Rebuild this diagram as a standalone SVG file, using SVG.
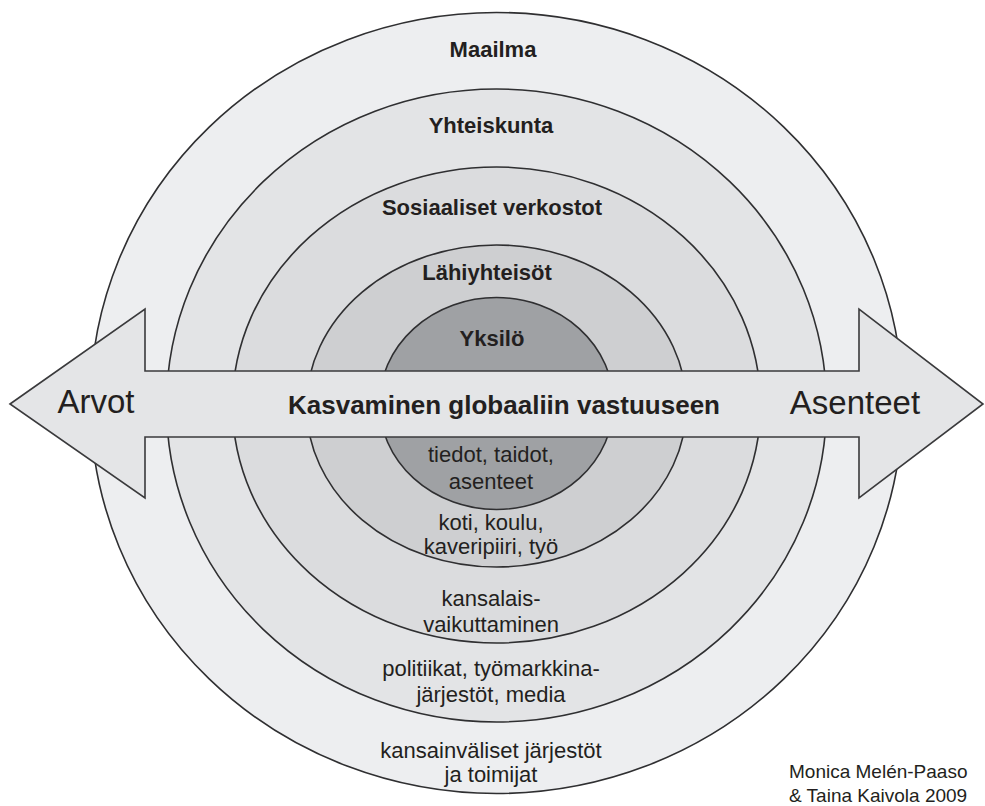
<svg xmlns="http://www.w3.org/2000/svg" width="985" height="806" viewBox="0 0 985 806">
<style>
.ring{stroke:#2f2f31;stroke-width:1.6}
.lb{font-family:"Liberation Sans",Arial,sans-serif;font-weight:bold;font-size:22px;fill:#231f20;text-anchor:middle}
.tx{font-family:"Liberation Sans",Arial,sans-serif;font-size:22px;fill:#231f20;text-anchor:middle}
.big{font-family:"Liberation Sans",Arial,sans-serif;font-size:33px;fill:#231f20;text-anchor:middle}
.att{font-family:"Liberation Sans",Arial,sans-serif;font-size:19px;fill:#231f20}
</style>
<rect width="985" height="806" fill="#ffffff"/>
<g id="maailma">
<ellipse class="ring" cx="496.5" cy="403" rx="406" ry="390.5" fill="#edeef0"/>
</g>
<g id="yhteiskunta">
<ellipse class="ring" cx="496.5" cy="405.5" rx="330" ry="316.5" fill="#e3e4e6"/>
</g>
<g id="sosiaaliset">
<ellipse class="ring" cx="496.5" cy="405" rx="264" ry="238" fill="#dbdcde"/>
</g>
<g id="lahiyhteisot">
<ellipse class="ring" cx="496.5" cy="406" rx="190" ry="161" fill="#cecfd1"/>
</g>
<g id="yksilo">
<ellipse class="ring" cx="496.5" cy="403.5" rx="117" ry="106" fill="#9fa1a4"/>
</g>
<g id="connectors">
<polygon points="10,404 145,309 145,371 859,371 859,309 983,404 859,498 859,437 145,437 145,498" fill="#e4e5e7" stroke="#3a3a3c" stroke-width="1.6" stroke-linejoin="miter"/>
</g>
<g id="labels">
<text class="lb" x="493" y="57" font-size="23">Maailma</text>
<text class="lb" x="491" y="133">Yhteiskunta</text>
<text class="lb" x="492" y="215">Sosiaaliset verkostot</text>
<text class="lb" x="487" y="280">Lähiyhteisöt</text>
<text class="lb" x="492" y="346">Yksilö</text>
<text class="lb" x="504" y="414" style="font-size:26px">Kasvaminen globaaliin vastuuseen</text>
<text class="big" x="96" y="413">Arvot</text>
<text class="big" x="855" y="414">Asenteet</text>
<text class="tx" x="491" y="462">tiedot, taidot,</text>
<text class="tx" x="491" y="489">asenteet</text>
<text class="tx" x="491" y="530">koti, koulu,</text>
<text class="tx" x="491" y="554">kaveripiiri, työ</text>
<text class="tx" x="491" y="606">kansalais-</text>
<text class="tx" x="491" y="632">vaikuttaminen</text>
<text class="tx" x="491" y="676">politiikat, työmarkkina-</text>
<text class="tx" x="491" y="702">järjestöt, media</text>
<text class="tx" x="491" y="758">kansainväliset järjestöt</text>
<text class="tx" x="491" y="782">ja toimijat</text>
<text class="att" x="789" y="778">Monica Melén-Paaso</text>
<text class="att" x="789" y="802">&amp; Taina Kaivola 2009</text>
</g>
</svg>
